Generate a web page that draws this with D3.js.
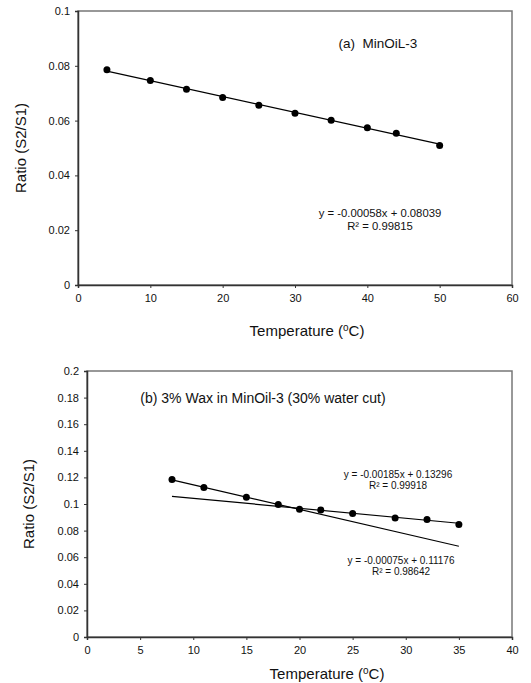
<!DOCTYPE html>
<html>
<head>
<meta charset="utf-8">
<script src="https://cdn.jsdelivr.net/npm/d3@7"></script>
<style>
  body { margin: 0; background: #fff; }
  text { font-family: "Liberation Sans", Arial, sans-serif; fill: #111; }
  .tick text { font-size: 11px; }
  .axis path, .axis line { stroke: #333; }
</style>
</head>
<body>
<svg class="plot" width="531" height="683"></svg>
<script>
// panel (a) MinOiL-3
var tempA = [4, 10, 15, 20, 25, 30, 35, 40, 44, 50];
var ratioA = [0.0786, 0.0746, 0.0714, 0.0684, 0.0656, 0.0627, 0.0601, 0.0574, 0.0554, 0.0509];
var fitA = [{slope: -0.00058, icpt: 0.08039, from: 4, to: 50}];
var xTicksA = [0, 10, 20, 30, 40, 50, 60];
var yTicksA = [0, 0.02, 0.04, 0.06, 0.08, 0.1];

// panel (b) 3% wax, 30% water cut
var tempB = [8, 11, 15, 18, 20, 22, 25, 29, 32, 35];
var ratioB = [0.1184, 0.1124, 0.1051, 0.0996, 0.0961, 0.0954, 0.0929, 0.0894, 0.0884, 0.0846];
var fitB = [{slope: -0.00185, icpt: 0.13296, from: 8, to: 35},
            {slope: -0.00075, icpt: 0.11176, from: 8, to: 35}];
var xTicksB = [0, 5, 10, 15, 20, 25, 30, 35, 40];
var yTicksB = [0, 0.02, 0.04, 0.06, 0.08, 0.1, 0.12, 0.14, 0.16, 0.18, 0.2];

var svg = d3.select(".plot");

function drawPanel(p) {
  var x = d3.scaleLinear().domain(p.xDomain).range([p.left, p.right]),
      y = d3.scaleLinear().domain(p.yDomain).range([p.bottom, p.top]);

  //frame round the plot area
  svg.append("rect")
      .attr("x", p.left).attr("y", p.top)
      .attr("width", p.right - p.left).attr("height", p.bottom - p.top)
      .attr("fill", "none").attr("stroke", "#777").attr("stroke-width", 1.5);

  svg.append("g")
      .attr("class", "axis")
      .attr("transform", "translate(0," + p.bottom + ")")
      .call(d3.axisBottom(x).tickValues(p.xTicks).tickSize(3).tickPadding(6).tickFormat(d3.format("")));

  svg.append("g")
      .attr("class", "axis")
      .attr("transform", "translate(" + p.left + ",0)")
      .call(d3.axisLeft(y).tickValues(p.yTicks).tickSize(3).tickPadding(5).tickFormat(function(d) { return +d.toFixed(2) + ""; }));

  svg.selectAll(".domain").attr("stroke-width", 1.5);

  //trend lines
  p.fits.forEach(function(f) {
    svg.append("line")
        .attr("x1", x(f.from)).attr("y1", y(f.slope * f.from + f.icpt))
        .attr("x2", x(f.to)).attr("y2", y(f.slope * f.to + f.icpt))
        .attr("stroke", "#000").attr("stroke-width", 1.2);
  });

  svg.append("g").selectAll("circle")
      .data(p.xs)
      .enter()
      .append("circle")
      .attr("cx", function(d) { return x(d); })
      .attr("cy", function(d, i) { return y(p.ys[i]); })
      .attr("r", 3.5)
      .attr("fill", "#000");

  //titles
  svg.append("text")
      .attr("transform", "translate(" + p.yLabelX + "," + ((p.top + p.bottom) / 2) + ") rotate(-90)")
      .attr("text-anchor", "middle")
      .style("font-size", "15px")
      .text("Ratio (S2/S1)");

  var xl = svg.append("text")
      .attr("x", p.xLabelCx).attr("y", p.xLabelY)
      .attr("text-anchor", "middle")
      .style("font-size", "15px");
  xl.append("tspan").text("Temperature (");
  xl.append("tspan").attr("dy", -5).style("font-size", "10px").text("o");
  xl.append("tspan").attr("dy", 5).text("C)");

  p.notes.forEach(function(n) {
    svg.append("text")
        .attr("x", n.x).attr("y", n.y)
        .attr("text-anchor", "middle")
        .style("font-size", n.size + "px")
        .style("white-space", "pre")
        .text(n.text);
  });
}

drawPanel({
  xs: tempA, ys: ratioA, fits: fitA, xTicks: xTicksA, yTicks: yTicksA,
  xDomain: [0, 60], yDomain: [0, 0.1],
  left: 78, right: 512, top: 11, bottom: 285,
  yLabelX: 26, xLabelCx: 307, xLabelY: 336,
  notes: [
    {x: 378, y: 48, size: 13.5, text: "(a)  MinOiL-3"},
    {x: 380, y: 217, size: 11.3, text: "y = -0.00058x + 0.08039"},
    {x: 380, y: 230, size: 11.3, text: "R² = 0.99815"}
  ]
});

drawPanel({
  xs: tempB, ys: ratioB, fits: fitB, xTicks: xTicksB, yTicks: yTicksB,
  xDomain: [0, 40], yDomain: [0, 0.2],
  left: 87, right: 512, top: 371, bottom: 637,
  yLabelX: 34, xLabelCx: 327, xLabelY: 679,
  notes: [
    {x: 263, y: 403, size: 14, text: "(b) 3% Wax in MinOil-3 (30% water cut)"},
    {x: 398, y: 478, size: 10, text: "y = -0.00185x + 0.13296"},
    {x: 398, y: 489, size: 10, text: "R² = 0.99918"},
    {x: 401, y: 564, size: 10, text: "y = -0.00075x + 0.11176"},
    {x: 401, y: 575, size: 10, text: "R² = 0.98642"}
  ]
});
</script>
</body>
</html>
